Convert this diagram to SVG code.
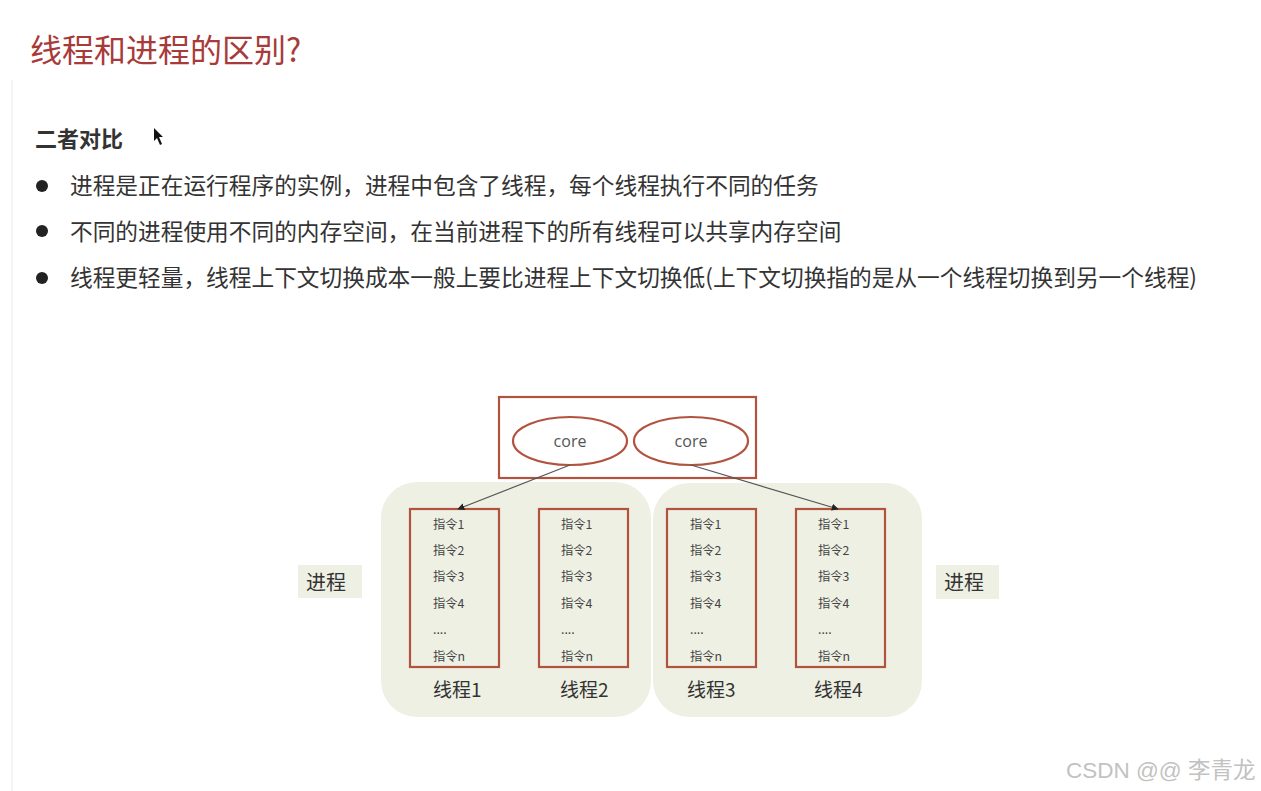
<svg xmlns="http://www.w3.org/2000/svg" width="1261" height="791" viewBox="0 0 1261 791">
<defs>
<style>
text{font-family:"Noto Sans CJK SC","Noto Sans",sans-serif;}
.t{font-size:22.7px;fill:#333;}
.ins{font-size:12.3px;fill:#444;}
.lbl{font-size:19px;fill:#333;}
.red{fill:none;stroke:#b25340;stroke-width:2.2;}
.grp{fill:#eef0e3;}
.core{font-size:16px;fill:#555;font-family:"Open Sans","Noto Sans",sans-serif;}
.conn{stroke:#555;stroke-width:1.2;fill:none;marker-end:url(#ah);}
</style>
<marker id="ah" viewBox="0 0 10 10" refX="9" refY="5" markerWidth="7" markerHeight="7" orient="auto-start-reverse" markerUnits="userSpaceOnUse">
<path d="M0,0 L10,5 L0,10 z" fill="#222"/>
</marker>
</defs>
<rect width="1261" height="791" fill="#fff"/>
<line x1="12" y1="80" x2="12" y2="791" stroke="#f0f0f0" stroke-width="1.5"/>
<text x="30" y="62" style="font-size:32px;fill:#a83a3a;">线程和进程的区别?</text>
<text x="35" y="147" style="font-size:22px;font-weight:bold;fill:#333;">二者对比</text>
<path d="M154,128 L154,141 L157,138 L160,145 L162,144 L159,137 L163,137 Z" fill="#111"/>
<circle cx="42" cy="186" r="6" fill="#222"/>
<circle cx="42" cy="231" r="6" fill="#222"/>
<circle cx="42" cy="278" r="6" fill="#222"/>
<text class="t" x="70" y="194">进程是正在运行程序的实例，进程中包含了线程，每个线程执行不同的任务</text>
<text class="t" x="70" y="240">不同的进程使用不同的内存空间，在当前进程下的所有线程可以共享内存空间</text>
<text class="t" x="70" y="286">线程更轻量，线程上下文切换成本一般上要比进程上下文切换低(上下文切换指的是从一个线程切换到另一个线程)</text>

<g id="process-left">
<rect class="grp" x="381" y="482" width="270" height="235" rx="36"/>
</g>
<g id="process-right">
<rect class="grp" x="653" y="483" width="269" height="234" rx="36"/>
</g>
<g id="cpu">
<rect x="499" y="397" width="257" height="81" fill="#fff" stroke="#b25340" stroke-width="2.2"/>
</g>
<g id="core1">
<ellipse class="red" cx="570" cy="441" rx="57" ry="24" fill="#fff"/>
<text class="core" x="570" y="447" text-anchor="middle">core</text>
</g>
<g id="core2">
<ellipse class="red" cx="691" cy="441" rx="57" ry="24" fill="#fff"/>
<text class="core" x="691" y="447" text-anchor="middle">core</text>
</g>

<g id="thread1">
<rect class="red" x="410" y="509" width="89" height="158"/>
<text class="ins" x="433" y="529">指令1</text>
<text class="ins" x="433" y="555">指令2</text>
<text class="ins" x="433" y="581">指令3</text>
<text class="ins" x="433" y="608">指令4</text>
<text class="ins" x="433" y="634">....</text>
<text class="ins" x="433" y="661">指令n</text>
<text class="lbl" x="433" y="697">线程1</text>
</g>
<g id="thread2">
<rect class="red" x="539" y="509" width="89" height="158"/>
<text class="ins" x="561" y="529">指令1</text>
<text class="ins" x="561" y="555">指令2</text>
<text class="ins" x="561" y="581">指令3</text>
<text class="ins" x="561" y="608">指令4</text>
<text class="ins" x="561" y="634">....</text>
<text class="ins" x="561" y="661">指令n</text>
<text class="lbl" x="560" y="697">线程2</text>
</g>
<g id="thread3">
<rect class="red" x="667" y="509" width="89" height="158"/>
<text class="ins" x="690" y="529">指令1</text>
<text class="ins" x="690" y="555">指令2</text>
<text class="ins" x="690" y="581">指令3</text>
<text class="ins" x="690" y="608">指令4</text>
<text class="ins" x="690" y="634">....</text>
<text class="ins" x="690" y="661">指令n</text>
<text class="lbl" x="687" y="697">线程3</text>
</g>
<g id="thread4">
<rect class="red" x="796" y="509" width="89" height="158"/>
<text class="ins" x="818" y="529">指令1</text>
<text class="ins" x="818" y="555">指令2</text>
<text class="ins" x="818" y="581">指令3</text>
<text class="ins" x="818" y="608">指令4</text>
<text class="ins" x="818" y="634">....</text>
<text class="ins" x="818" y="661">指令n</text>
<text class="lbl" x="814" y="697">线程4</text>
</g>

<g id="label-left">
<rect class="grp" x="298" y="565" width="64" height="33"/>
<text x="306" y="590" style="font-size:20px;fill:#333;">进程</text>
</g>
<g id="label-right">
<rect class="grp" x="936" y="565" width="63" height="34"/>
<text x="944" y="590" style="font-size:20px;fill:#333;">进程</text>
</g>

<g id="connectors">
<line class="conn" x1="570" y1="465" x2="458" y2="509"/>
<line class="conn" x1="691" y1="465" x2="838" y2="509"/>
</g>

<text x="1066" y="778" style="font-size:22.5px;fill:#c2c2c2;font-family:'Liberation Sans','Noto Sans CJK SC',sans-serif;">CSDN @@ 李青龙</text>
</svg>
